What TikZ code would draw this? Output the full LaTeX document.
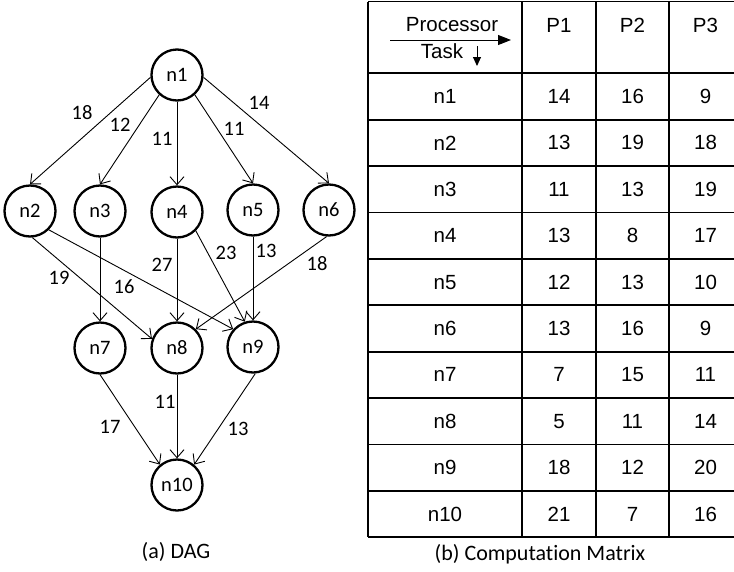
\documentclass[tikz,border=0pt]{standalone}
\usepackage{fontspec}
\setmainfont{Carlito}[Ligatures=NoCommon]
\newfontfamily\arialfont{Liberation Sans}
\usetikzlibrary{arrows.meta}
\begin{document}
\begin{tikzpicture}[x=1pt,y=-1pt,
  task/.style={circle,draw,line width=2.3pt,minimum size=51pt,inner sep=0pt,
    font=\fontsize{20.5}{24}\selectfont},
  edge/.style={line width=0.9pt,
    -{Straight Barb[length=8pt,width=14pt,line width=0.9pt]}},
  wt/.style={font=\fontsize{20.5}{24}\selectfont,inner sep=0pt},
  cell/.style={font=\arialfont\fontsize{20.5}{24}\selectfont,inner sep=0pt},
  gridline/.style={line width=1.8pt},
  hdrarrow/.style={line width=1pt},
  captext/.style={font=\fontsize{22}{26}\selectfont,inner sep=0pt}]
\clip (0,0) rectangle (734,571);
\fill[white] (0,0) rectangle (734,571);

% ---- task graph ----
\node[task] (n1)  at (177,75)  {n1};
\node[task] (n2)  at (30,211)  {n2};
\node[task] (n3)  at (100,211) {n3};
\node[task] (n4)  at (177,212) {n4};
\node[task] (n5)  at (253,210) {n5};
\node[task] (n6)  at (329,210) {n6};
\node[task] (n7)  at (100,348) {n7};
\node[task] (n8)  at (177,348) {n8};
\node[task] (n9)  at (253,347) {n9};
\node[task] (n10) at (177,485) {n10};

\draw[edge] (n1.185) -- (n2.north);
\draw[edge] (n1.228) -- (n3.north);
\draw[edge] (n1.south) -- (n4.north);
\draw[edge] (n1.312) -- (n5.north);
\draw[edge] (n1.355) -- (n6.north);

\draw[edge] (n2.275) -- (n8.160);
\draw[edge] (n2.315) -- (n9.138);
\draw[edge] (n3.south) -- (n7.north);
\draw[edge] (n4.south) -- (n8.north);
\draw[edge] (n4.315) -- (n9.108);
\draw[edge] (n5.south) -- (n9.north);
\draw[edge] (n6.265) -- (n8.45);
\draw[edge] (n7.south) -- (n10.130);
\draw[edge] (n8.south) -- (n10.north);
\draw[edge] (n9.275) -- (n10.50);

\node[wt] (w12) at (82,113)  {18};
\node[wt] (w13) at (120,125) {12};
\node[wt] (w14) at (162,139) {11};
\node[wt] (w15) at (234,129) {11};
\node[wt] (w16) at (259,103) {14};
\node[wt] (w28) at (59,278)  {19};
\node[wt] (w29) at (124,287) {16};
\node[wt] (w48) at (162,265) {27};
\node[wt] (w49) at (226,253) {23};
\node[wt] (w59) at (266,251) {13};
\node[wt] (w68) at (317,264) {18};
\node[wt] (w810) at (165,402) {11};
\node[wt] (w710) at (110,427) {17};
\node[wt] (w910) at (238,429) {13};

\node[captext] (capa) at (176,552) {(a) DAG};

% ---- computation matrix ----
\draw[gridline] (368,1.5) -- (742,1.5);
\foreach \k in {0,...,10}
  \draw[gridline] (368,{73.3+46.4*\k}) -- (742,{73.3+46.4*\k});
\foreach \xx in {368,522,596,669,742}
  \draw[gridline] (\xx,1.5) -- (\xx,537.3);

\node[cell] (hproc) at (452,25) {Processor};
\node[cell] (htask) at (442,51) {Task};
\coordinate (pa) at (390,40);
\coordinate (pb) at (511,40);
\draw[hdrarrow,-{Triangle[length=13pt,width=10pt]}] (pa) -- (pb);
\coordinate (ta) at (477,46);
\coordinate (tb) at (477,66);
\draw[hdrarrow,-{Triangle[length=9pt,width=8pt]}] (ta) -- (tb);
\node[cell] (hp1) at (559,25) {P1};
\node[cell] (hp2) at (632.5,25) {P2};
\node[cell] (hp3) at (705.5,25) {P3};

\foreach \nm/\a/\b/\c [count=\i] in
  {n1/14/16/9, n2/13/19/18, n3/11/13/19, n4/13/8/17, n5/12/13/10,
   n6/13/16/9, n7/7/15/11, n8/5/11/14, n9/18/12/20, n10/21/7/16}
{
  \node[cell] (r\i-0) at (445,{73.3+46.4*(\i-0.5)}) {\nm};
  \node[cell] (r\i-1) at (559,{73.3+46.4*(\i-0.5)}) {\a};
  \node[cell] (r\i-2) at (632.5,{73.3+46.4*(\i-0.5)}) {\b};
  \node[cell] (r\i-3) at (705.5,{73.3+46.4*(\i-0.5)}) {\c};
}

\node[captext] (capb) at (540,554) {(b) Computation Matrix};
\end{tikzpicture}
\end{document}
